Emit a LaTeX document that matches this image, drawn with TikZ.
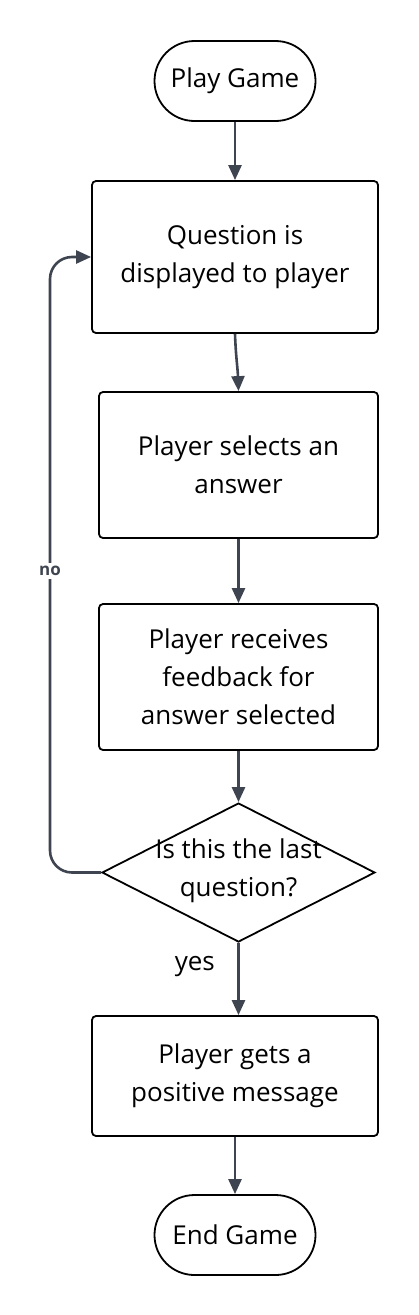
\documentclass[tikz,border=0pt]{standalone}
\usepackage{fontspec}
\setmainfont{Open Sans}
\usetikzlibrary{arrows.meta,shapes.geometric}
\definecolor{conncol}{HTML}{3F4550}
\tikzset{
  every node/.style={font=\fontsize{26}{38}\selectfont, text=black},
  procbox/.style={draw=black, line width=1.8pt, rounded corners=4pt, align=center, inner sep=0pt},
  terminal/.style={draw=black, line width=1.8pt, rounded corners=40pt, minimum width=161pt, minimum height=80pt, inner sep=0pt, align=center},
  decision/.style={draw=black, line width=1.8pt, diamond, minimum width=273pt, minimum height=139pt, inner sep=0pt},
  conn/.style={draw=conncol, line width=2.6pt, -{Triangle[length=15pt,width=13pt]}},
  lbl/.style={font=\fontsize{17}{18}\selectfont\bfseries, text=conncol, fill=white, inner sep=3pt},
}
\begin{document}
\begin{tikzpicture}[x=1pt,y=-1pt]
\useasboundingbox (0,0) rectangle (418,1315);
\node[terminal] (start) at (235,81) {Play Game};
\node[procbox, minimum width=286pt, minimum height=152pt] (q) at (235,257) {Question is\\displayed to player};
\node[procbox, minimum width=279pt, minimum height=146pt] (sel) at (238.5,465) {Player selects an\\answer};
\node[procbox, minimum width=279pt, minimum height=146pt] (fb) at (238.5,677) {Player receives\\feedback for\\answer selected};
\node[decision] (dec) at (238.5,872.5) {};
\node[align=center] (dect) at (238.5,871) {Is this the last\\question?};
\node[procbox, minimum width=286pt, minimum height=120pt] (pos) at (235,1076) {Player gets a\\positive message};
\node[terminal] (end) at (235,1235) {End Game};
\coordinate (lx) at (50,571);
\draw[conn] (start) -- (q);
\draw[conn] (q.south) to[out=-88,in=92] (sel.north);
\draw[conn] (sel) -- (fb);
\draw[conn] (fb) -- (dec);
\draw[conn] (dec.south) -- node[pos=0.33, anchor=east, xshift=-19pt] (yes) {yes} (dec.south |- pos.north);
\draw[conn] (pos.south) -- (end.north);
\draw[conn, rounded corners=22pt] (dec.west) -| (lx) |- (q.west);
\node[lbl] (no) at (lx) {no};
\end{tikzpicture}
\end{document}
